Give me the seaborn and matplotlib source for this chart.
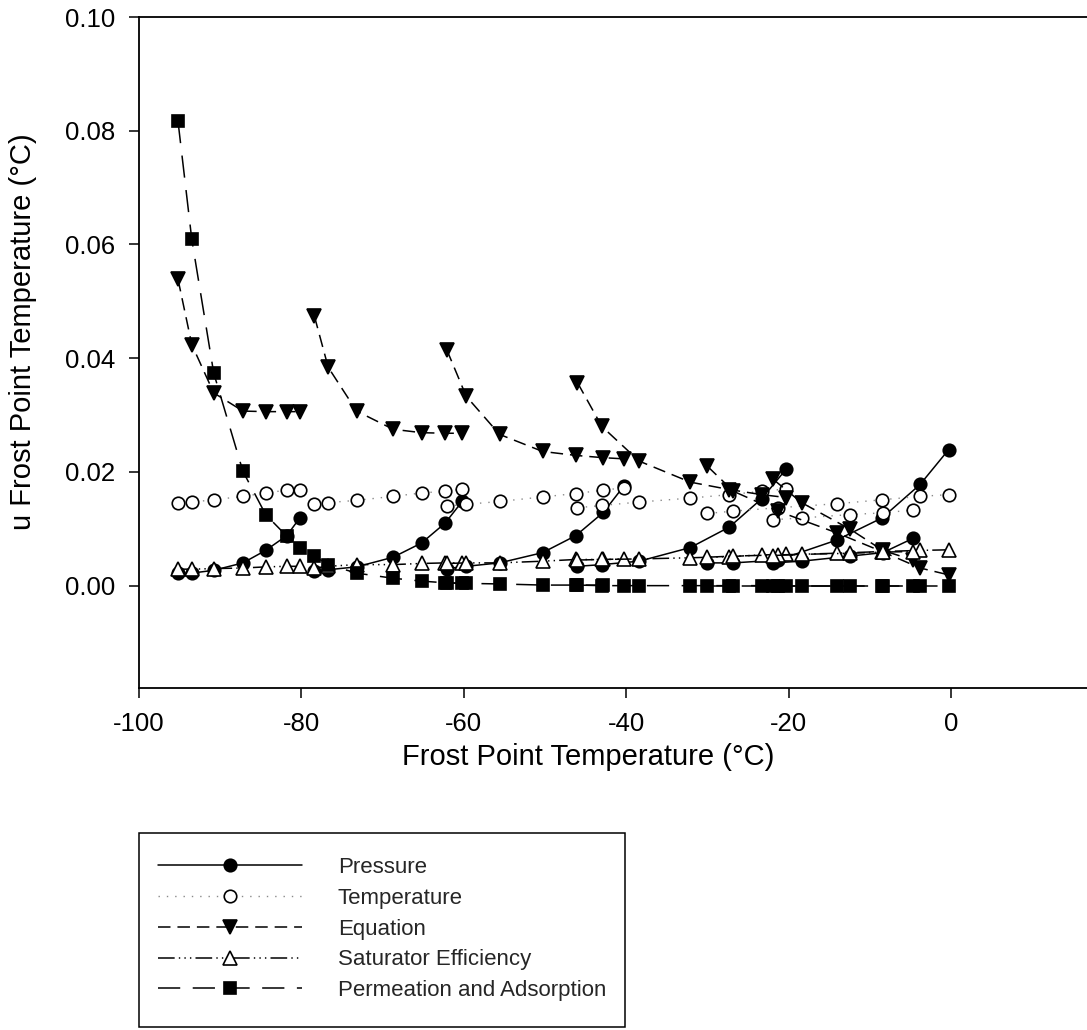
import numpy as np
import pandas as pd
import matplotlib
matplotlib.use("Agg")
import matplotlib.pyplot as plt
import seaborn as sns
from matplotlib.patches import Rectangle

# ---------------- data ----------------
frost_point = [
    -95.2, -93.5, -90.8, -87.2, -84.4, -81.8, -80.2,      # run A
    -78.4, -76.7, -73.2, -68.7, -65.2, -62.3, -60.2,      # run B
    -62.1, -59.7, -55.6, -50.3, -46.2, -42.8, -40.3,      # run C
    -46.0, -43.0, -38.4, -32.1, -27.3, -23.3, -20.3,      # run D
    -30.0, -26.8, -21.3, -14.1, -8.5, -3.8, -0.3,         # run E
    -21.9, -18.4, -12.4, -8.4, -4.7,                      # run F
]
run_id = ["A"] * 7 + ["B"] * 7 + ["C"] * 7 + ["D"] * 7 + ["E"] * 7 + ["F"] * 5

pressure = [
    0.0022, 0.0022, 0.0027, 0.0040, 0.0062, 0.0088, 0.0119,
    0.0025, 0.0028, 0.0033, 0.0050, 0.0075, 0.0110, 0.0148,
    0.0030, 0.0034, 0.0040, 0.0058, 0.0088, 0.0129, 0.0175,
    0.0034, 0.0037, 0.0043, 0.0067, 0.0103, 0.0153, 0.0205,
    0.0040, 0.0040, 0.0045, 0.0080, 0.0119, 0.0178, 0.0239,
    0.0040, 0.0043, 0.0052, 0.0058, 0.0083,
]
temperature = [
    0.0146, 0.0147, 0.0151, 0.0157, 0.0163, 0.0168, 0.0169,
    0.0143, 0.0146, 0.0150, 0.0157, 0.0163, 0.0166, 0.0170,
    0.0140, 0.0143, 0.0148, 0.0156, 0.0162, 0.0168, 0.0172,
    0.0137, 0.0141, 0.0147, 0.0154, 0.0160, 0.0166, 0.0170,
    0.0127, 0.0131, 0.0137, 0.0144, 0.0151, 0.0157, 0.0160,
    0.0116, 0.0119, 0.0125, 0.0128, 0.0133,
]
equation = [
    0.0539, 0.0424, 0.0339, 0.0307, 0.0306, 0.0306, 0.0306,
    0.0474, 0.0384, 0.0307, 0.0275, 0.0269, 0.0268, 0.0268,
    0.0415, 0.0333, 0.0266, 0.0236, 0.0229, 0.0225, 0.0223,
    0.0357, 0.0280, 0.0219, 0.0182, 0.0169, 0.0160, 0.0155,
    0.0210, 0.0166, 0.0131, 0.0093, 0.0060, 0.0031, 0.0019,
    0.0187, 0.0146, 0.0099, 0.0062, 0.0045,
]
saturator_efficiency = [
    0.0029, 0.0029, 0.0030, 0.0031, 0.0033, 0.0034, 0.0034,
    0.0031, 0.0034, 0.0037, 0.0037, 0.0039, 0.0040, 0.0040,
    0.0039, 0.0040, 0.0040, 0.0043, 0.0046, 0.0046, 0.0047,
    0.0045, 0.0046, 0.0047, 0.0049, 0.0051, 0.0054, 0.0055,
    0.0050, 0.0052, 0.0054, 0.0057, 0.0060, 0.0062, 0.0063,
    0.0053, 0.0055, 0.0057, 0.0059, 0.0060,
]
permeation_adsorption = [
    0.0817, 0.0609, 0.0374, 0.0201, 0.0125, 0.0087, 0.0066,
    0.0052, 0.0037, 0.0022, 0.0013, 0.0008, 0.0005, 0.0004,
    0.0005, 0.0004, 0.0003, 0.0001, 0.0001, 0.0001, 0.0000,
    0.0001, 0.0000, 0.0000, 0.0000, 0.0000, 0.0000, 0.0000,
    0.0000, 0.0000, 0.0000, 0.0000, 0.0000, 0.0000, 0.0000,
    0.0000, 0.0000, 0.0000, 0.0000, 0.0000,
]

series_names = ["Pressure", "Temperature", "Equation",
                "Saturator Efficiency", "Permeation and Adsorption"]
x_ticks = [-100, -80, -60, -40, -20, 0]
y_ticks = [0.00, 0.02, 0.04, 0.06, 0.08, 0.10]

# ---------------- styling ----------------
sns.set_theme(style="ticks")
plt.rcParams["font.family"] = ["Liberation Sans", "DejaVu Sans"]
plt.rcParams["axes.unicode_minus"] = False
plt.rcParams["lines.scale_dashes"] = False

df = pd.DataFrame({
    "frost": frost_point,
    "run": run_id,
    "Pressure": pressure,
    "Temperature": temperature,
    "Equation": equation,
    "Saturator Efficiency": saturator_efficiency,
    "Permeation and Adsorption": permeation_adsorption,
})
long_df = df.melt(id_vars=["frost", "run"], value_vars=series_names,
                  var_name="series", value_name="u")

styles = {
    "Pressure": dict(marker="o", markerfacecolor="black", color="black",
                     linestyle="-", linewidth=1.1, markersize=9),
    "Temperature": dict(marker="o", markerfacecolor="white", color="#8a8a8a",
                        linestyle=(0, (1, 5)), linewidth=1.0, markersize=9),
    "Equation": dict(marker="v", markerfacecolor="black", color="black",
                     linestyle=(0, (9, 5)), linewidth=1.1, markersize=10),
    "Saturator Efficiency": dict(marker="^", markerfacecolor="white", color="black",
                                 linestyle=(0, (12, 3, 1, 3, 1, 3, 1, 3)),
                                 linewidth=1.1, markersize=10),
    "Permeation and Adsorption": dict(marker="s", markerfacecolor="black", color="black",
                                      linestyle=(0, (16, 9)), linewidth=1.1,
                                      markersize=9),
}

W, H = 1087, 1030
fig = plt.figure(figsize=(W / 100, H / 100), dpi=100)
fig.patch.set_facecolor("white")
ax = fig.add_axes([139 / W, (H - 688) / H, (W - 139) / W, (688 - 17) / H])
ax.set_facecolor("white")

handles = []
for name in series_names:
    sub = long_df[long_df["series"] == name]
    n0 = len(ax.lines)
    sns.lineplot(data=sub, x="frost", y="u", units="run", estimator=None,
                 sort=False, ax=ax, legend=False, label=name,
                 markeredgecolor="black", markeredgewidth=1.2,
                 **styles[name])
    handles.append(ax.lines[n0])

ax.set_xlim(-100, 16.75)
ax.set_ylim(-0.018, 0.1)
ax.set_xticks(x_ticks)
ax.set_yticks(y_ticks)
ax.set_xticklabels([str(t) for t in x_ticks])
ax.set_yticklabels([f"{t:.2f}" for t in y_ticks])
ax.tick_params(direction="out", length=7, width=1.1, colors="black",
               labelsize=18.5, pad=10)

for side in ["left", "bottom", "top"]:
    ax.spines[side].set_visible(True)
    ax.spines[side].set_color("black")
    ax.spines[side].set_linewidth(1.3)
ax.spines["right"].set_visible(False)

ax.set_xlabel("Frost Point Temperature (°C)", fontsize=21, color="black")
ax.set_ylabel("u Frost Point Temperature (°C)", fontsize=21, color="black")
ax.xaxis.set_label_coords((588 - 139) / (W - 139), -(757 - 688) / (688 - 17))
ax.yaxis.set_label_coords(-(139 - 23) / (W - 139), (688 - 332) / (688 - 17))
ax.xaxis.label.set_va("center")
ax.yaxis.label.set_va("center")

# legend box
box_left, box_right, box_top, box_bottom = 139, 625, 833, 1027
fig.patches.append(Rectangle((box_left / W, (H - box_bottom) / H),
                             (box_right - box_left) / W, (box_bottom - box_top) / H,
                             transform=fig.transFigure, fill=False,
                             edgecolor="black", linewidth=1.1))
fig.legend(handles, series_names, loc="upper left",
           bbox_to_anchor=(158 / W, 1 - 857 / H), frameon=False,
           fontsize=16, handlelength=6.5, handletextpad=1.6,
           labelspacing=0.44, borderpad=0, borderaxespad=0, numpoints=1)

fig.savefig("out.png", dpi=100, facecolor="white")
